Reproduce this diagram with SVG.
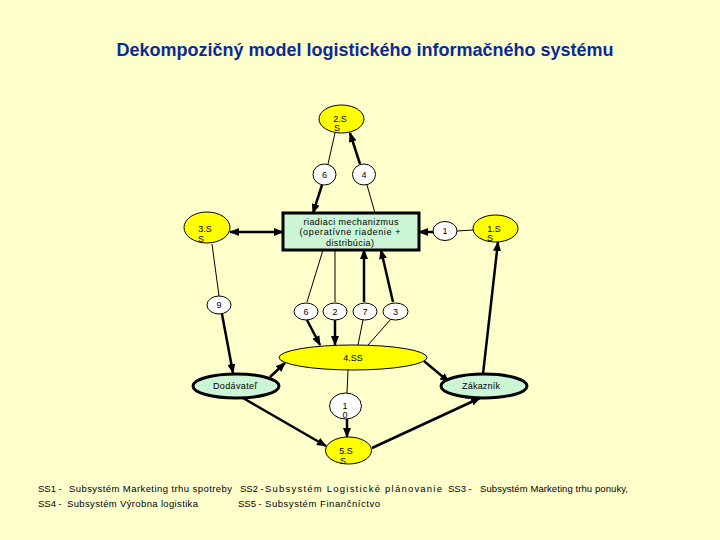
<svg xmlns="http://www.w3.org/2000/svg" width="720" height="540" viewBox="0 0 720 540">
<defs>
<marker id="ah" markerUnits="userSpaceOnUse" markerWidth="10" markerHeight="8" refX="9" refY="4" orient="auto-start-reverse">
<path d="M0,0 L10,4 L0,8 z" fill="#000"/>
</marker>
<style>
.thin{stroke:#000;stroke-width:1;fill:none}
.thick{stroke:#000;stroke-width:2.5;fill:none;marker-end:url(#ah)}
.yel{fill:#FFFF00;stroke:#000;stroke-width:1}
.wht{fill:#FFFFFF;stroke:#000;stroke-width:1}
.grn{fill:#CCF5D5;stroke:#000;stroke-width:3}
.t{font-family:"Liberation Sans",Arial,sans-serif;font-size:9px;fill:#000;text-anchor:middle}
.leg{font-family:"Liberation Sans",Arial,sans-serif;font-size:9.5px;fill:#000}
</style>
</defs>
<rect x="0" y="0" width="720" height="540" fill="#FFFFCC"/>
<text x="365" y="56" text-anchor="middle" font-family="Liberation Sans, Arial, sans-serif" font-weight="bold" font-size="18" fill="#0A2A96">Dekompozičný model logistického informačného systému</text>

<g id="connectors">
<line class="thin" x1="335" y1="133" x2="328" y2="164"/>
<line class="thick" x1="360" y1="164" x2="350" y2="133"/>
<line class="thick" x1="322" y1="185" x2="313" y2="213"/>
<line class="thin" x1="367" y1="185" x2="375" y2="213"/>
<line class="thick" x1="230" y1="232" x2="283" y2="232" marker-start="url(#ah)"/>
<line class="thick" x1="433" y1="232" x2="419" y2="232"/>
<line class="thin" x1="457" y1="231" x2="473" y2="230"/>
<line class="thin" x1="212" y1="244" x2="219" y2="296"/>
<line class="thick" x1="222" y1="314" x2="233" y2="373"/>
<line class="thin" x1="323" y1="250" x2="307" y2="302"/>
<line class="thin" x1="335" y1="250" x2="335" y2="302"/>
<line class="thick" x1="364" y1="302" x2="364" y2="250"/>
<line class="thick" x1="393" y1="302" x2="381" y2="250"/>
<line class="thick" x1="307" y1="320" x2="320" y2="345"/>
<line class="thick" x1="335" y1="320" x2="335" y2="345"/>
<line class="thin" x1="363" y1="320" x2="358" y2="345"/>
<line class="thin" x1="391" y1="319" x2="368" y2="345"/>
<line class="thick" x1="270" y1="377" x2="285" y2="363"/>
<line class="thick" x1="424" y1="361" x2="449" y2="382"/>
<line class="thick" x1="243" y1="398" x2="326" y2="446"/>
<line class="thick" x1="372" y1="448" x2="480" y2="398"/>
<line class="thick" x1="483" y1="374" x2="498" y2="242"/>
<line class="thin" x1="348" y1="370" x2="347" y2="393"/>
<line class="thick" x1="347" y1="419" x2="347" y2="437"/>
</g>

<g id="ss2"><ellipse class="yel" cx="341.5" cy="119" rx="22.5" ry="14"/><text class="t" x="340" y="122">2.S</text><text class="t" x="337" y="131">S</text></g>
<g id="n6a"><ellipse class="wht" cx="324.5" cy="174.5" rx="11.5" ry="10.5"/><text class="t" x="324.5" y="178">6</text></g>
<g id="n4"><ellipse class="wht" cx="364" cy="174.5" rx="11.5" ry="10.5"/><text class="t" x="364" y="178">4</text></g>
<g id="riadiaci"><rect class="grn" x="283" y="213" width="136" height="37"/><text class="t" x="351" y="225" textLength="95" lengthAdjust="spacing">riadiaci mechanizmus</text><text class="t" x="350" y="235" textLength="101" lengthAdjust="spacing">(operatívne riadenie +</text><text class="t" x="350" y="246" textLength="48" lengthAdjust="spacing">distribúcia)</text></g>
<g id="ss3"><ellipse class="yel" cx="207" cy="227.5" rx="23" ry="15.5"/><text class="t" x="205" y="232">3.S</text><text class="t" x="201" y="242">S</text></g>
<g id="n1"><ellipse class="wht" cx="445" cy="231" rx="12" ry="9.5"/><text class="t" x="445" y="234">1</text></g>
<g id="ss1"><ellipse class="yel" cx="495.5" cy="228.5" rx="22.5" ry="13.5"/><text class="t" x="494" y="232">1.S</text><text class="t" x="490" y="241">S</text></g>
<g id="n9"><ellipse class="wht" cx="219" cy="305" rx="12" ry="9"/><text class="t" x="219" y="308">9</text></g>
<g id="n6b"><ellipse class="wht" cx="306" cy="311.5" rx="12" ry="8.5"/><text class="t" x="306" y="315">6</text></g>
<g id="n2"><ellipse class="wht" cx="335" cy="311.5" rx="12" ry="8.5"/><text class="t" x="335" y="315">2</text></g>
<g id="n7"><ellipse class="wht" cx="365" cy="311.5" rx="12" ry="8.5"/><text class="t" x="365" y="315">7</text></g>
<g id="n3"><ellipse class="wht" cx="395.5" cy="311.5" rx="12.5" ry="8.5"/><text class="t" x="395.5" y="315">3</text></g>
<g id="ss4"><ellipse class="yel" cx="353" cy="357.5" rx="74" ry="12.5"/><text class="t" x="353" y="361">4.SS</text></g>
<g id="dodavatel"><ellipse class="grn" cx="236" cy="386" rx="43" ry="12"/><text class="t" x="235" y="389" textLength="44" lengthAdjust="spacing">Dodávateľ</text></g>
<g id="zakaznik"><ellipse class="grn" cx="484" cy="386" rx="43" ry="12"/><text class="t" x="481" y="389" textLength="38" lengthAdjust="spacing">Zákazník</text></g>
<g id="n10"><ellipse class="wht" cx="345.5" cy="406" rx="16" ry="13"/><text class="t" x="345" y="409">1</text><text class="t" x="345" y="418">0</text></g>
<g id="ss5"><ellipse class="yel" cx="348.5" cy="450.5" rx="23" ry="13.5"/><text class="t" x="346" y="454">5.S</text><text class="t" x="343" y="464">S</text></g>

<g id="legend">
<text class="leg" x="38" y="492">SS1 -</text>
<text class="leg" x="69" y="492" textLength="163" lengthAdjust="spacing">Subsystém Marketing trhu spotreby</text>
<text class="leg" x="240" y="492">SS2 -</text>
<text class="leg" x="265" y="492" textLength="177" lengthAdjust="spacing">Subsystém Logistické plánovanie</text>
<text class="leg" x="448" y="492">SS3 -</text>
<text class="leg" x="480" y="492" textLength="148" lengthAdjust="spacing">Subsystém Marketing trhu ponuky,</text>
<text class="leg" x="38" y="507">SS4 -</text>
<text class="leg" x="67" y="507" textLength="131" lengthAdjust="spacing">Subsystém Výrobna logistika</text>
<text class="leg" x="238" y="507">SS5 -</text>
<text class="leg" x="265" y="507" textLength="115" lengthAdjust="spacing">Subsystém Finančníctvo</text>
</g>
</svg>
